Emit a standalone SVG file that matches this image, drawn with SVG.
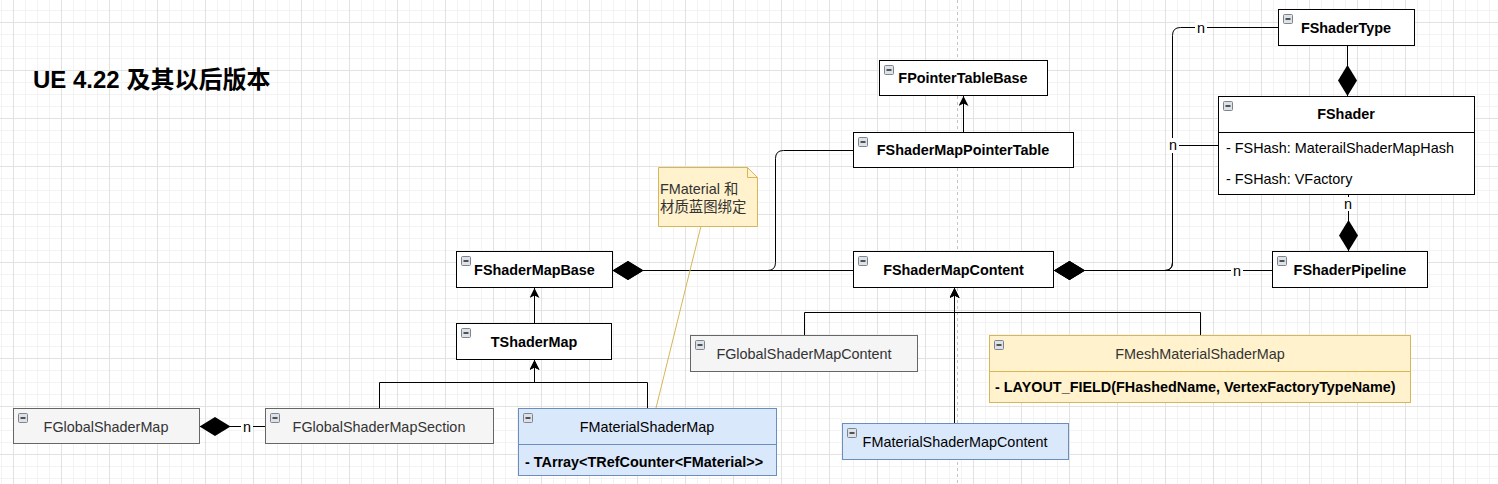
<svg xmlns="http://www.w3.org/2000/svg" width="1498" height="484" viewBox="0 0 1498 484">
<style>
  .t { font-family: "Liberation Sans", Arial, "Noto Sans CJK SC", sans-serif; font-size: 14.4px; fill: #000; }
  .b { font-weight: bold; }
  .c { text-anchor: middle; }
  .g { fill: #333333; }
  .box { fill: #ffffff; stroke: #000000; stroke-width: 1; }
  .grey { fill: #f5f5f5; stroke: #666666; stroke-width: 1; }
  .blue { fill: #dae8fc; stroke: #6c8ebf; stroke-width: 1; }
  .yel { fill: #fff2cc; stroke: #d6b656; stroke-width: 1; }
  .edge { fill: none; stroke: #000; stroke-width: 1; }
  .lbl { fill: #ffffff; stroke: none; }
</style>
<defs>
  <pattern id="grid" x="13" y="22" width="48" height="48" patternUnits="userSpaceOnUse">
    <path d="M12.5,0 V48 M24.5,0 V48 M36.5,0 V48 M0,12.5 H48 M0,24.5 H48 M0,36.5 H48" stroke="#f3f3f3" stroke-width="1" fill="none"/>
    <path d="M0.5,0 V48 M0,0.5 H48" stroke="#e2e2e2" stroke-width="1" fill="none"/>
  </pattern>
  <marker id="arrow" viewBox="0 0 10 10" refX="10" refY="5" markerWidth="10" markerHeight="10" markerUnits="userSpaceOnUse" orient="auto">
    <path d="M0,0 L10,5 L0,10 L2.5,5 Z" fill="#000"/>
  </marker>
  <marker id="diamond" viewBox="0 0 31 20" refX="31" refY="10" markerWidth="31" markerHeight="20" markerUnits="userSpaceOnUse" orient="auto">
    <path d="M0,10 L15.5,0.5 L31,10 L15.5,19.5 Z" fill="#000"/>
  </marker>
  <g id="icon">
    <rect x="0.5" y="0.5" width="9" height="9" rx="1" fill="#dde2e8" stroke="#7d848c"/>
    <path d="M2.5,5 H7.5" stroke="#222" stroke-width="1.5"/>
  </g>
</defs>

<rect x="0" y="0" width="1498" height="484" fill="#ffffff"/>
<rect x="0" y="0" width="1498" height="484" fill="url(#grid)"/>
<path d="M957.5,0 V484" stroke="#c4c4c4" stroke-width="1" stroke-dasharray="3 3"/>

<text x="33" y="88" class="t b" style="font-size:24px">UE 4.22 及其以后版本</text>

<g id="connectors">
  <path class="edge" d="M963.5,132 V96" marker-end="url(#arrow)"/>
  <path class="edge" d="M853,150.5 H783.5 Q775.5,150.5 775.5,158.5 V262.5 Q775.5,270.5 767.5,270.5 H612.5" marker-end="url(#diamond)"/>
  <path class="edge" d="M853,270.5 H612.5" marker-end="url(#diamond)"/>
  <path class="edge" d="M1278,27.5 H1180.5 Q1172.5,27.5 1172.5,35.5 V262.5 Q1172.5,270.5 1164.5,270.5 H1054" marker-end="url(#diamond)"/>
  <path class="edge" d="M1218,145.5 H1172.5 V262.5 Q1172.5,270.5 1164.5,270.5 H1054" marker-end="url(#diamond)"/>
  <path class="edge" d="M1272,270.5 H1054" marker-end="url(#diamond)"/>
  <path class="edge" d="M1347.5,45.5 V96" marker-end="url(#diamond)"/>
  <path class="edge" d="M1348.5,194.5 V251" marker-end="url(#diamond)"/>
  <path class="edge" d="M534.5,323.5 V288" marker-end="url(#arrow)"/>
  <path class="edge" d="M379.5,408 V382.5 H534.5 V360" marker-end="url(#arrow)"/>
  <path class="edge" d="M647.5,408 V382.5 H534.5 V360" marker-end="url(#arrow)"/>
  <path class="edge" d="M265,426.5 H199.5" marker-end="url(#diamond)"/>
  <path class="edge" d="M804.5,335.5 V312.5 H954.5 V288" marker-end="url(#arrow)"/>
  <path class="edge" d="M1200.5,335.5 V312.5 H954.5 V288" marker-end="url(#arrow)"/>
  <path class="edge" d="M954.5,423 V288" marker-end="url(#arrow)"/>
  <path d="M701,226 L656,408" stroke="#d6b656" stroke-width="1" fill="none"/>
  <rect class="lbl" x="1195" y="20" width="12" height="15"/>
  <text x="1201" y="33" class="t c">n</text>
  <rect class="lbl" x="1167" y="138" width="12" height="15"/>
  <text x="1173" y="150" class="t c">n</text>
  <rect class="lbl" x="1342" y="197" width="12" height="14"/>
  <text x="1348" y="209" class="t c">n</text>
  <rect class="lbl" x="1231" y="264" width="12" height="14"/>
  <text x="1237" y="276" class="t c">n</text>
  <rect class="lbl" x="241" y="420" width="12" height="14"/>
  <text x="247" y="432" class="t c">n</text>
</g>

<g id="FPointerTableBase">
  <rect class="box" x="879.5" y="60.5" width="168" height="35"/>
  <use href="#icon" x="884" y="65"/>
  <text x="963" y="83" class="t b c">FPointerTableBase</text>
</g>
<g id="FShaderMapPointerTable">
  <rect class="box" x="853.5" y="132.5" width="220" height="35"/>
  <use href="#icon" x="858" y="137"/>
  <text x="963" y="155" class="t b c">FShaderMapPointerTable</text>
</g>
<g id="FShaderType">
  <rect class="box" x="1278.5" y="9.5" width="136" height="36"/>
  <use href="#icon" x="1283" y="14"/>
  <text x="1346" y="33" class="t b c">FShaderType</text>
</g>
<g id="FShader">
  <rect class="box" x="1218.5" y="96.5" width="256" height="98"/>
  <path d="M1218.5,132.5 H1474.5" stroke="#000" stroke-width="1"/>
  <use href="#icon" x="1223" y="101"/>
  <text x="1346" y="119" class="t b c">FShader</text>
  <text x="1226" y="153" class="t">- FSHash: MaterailShaderMapHash</text>
  <text x="1226" y="184" class="t">- FSHash: VFactory</text>
</g>
<g id="FShaderMapBase">
  <rect class="box" x="456.5" y="251.5" width="156" height="36"/>
  <use href="#icon" x="461" y="256"/>
  <text x="534.5" y="275" class="t b c">FShaderMapBase</text>
</g>
<g id="FShaderMapContent">
  <rect class="box" x="853.5" y="251.5" width="200" height="36"/>
  <use href="#icon" x="858" y="256"/>
  <text x="953.5" y="275" class="t b c">FShaderMapContent</text>
</g>
<g id="FShaderPipeline">
  <rect class="box" x="1272.5" y="251.5" width="155" height="36"/>
  <use href="#icon" x="1277" y="256"/>
  <text x="1350" y="275" class="t b c">FShaderPipeline</text>
</g>
<g id="TShaderMap">
  <rect class="box" x="456.5" y="323.5" width="155" height="36"/>
  <use href="#icon" x="461" y="328"/>
  <text x="534" y="347" class="t b c">TShaderMap</text>
</g>
<g id="FGlobalShaderMap">
  <rect class="grey" x="13.5" y="408.5" width="186" height="35"/>
  <use href="#icon" x="18" y="413"/>
  <text x="106" y="432" class="t c g">FGlobalShaderMap</text>
</g>
<g id="FGlobalShaderMapSection">
  <rect class="grey" x="265.5" y="408.5" width="228" height="35"/>
  <use href="#icon" x="270" y="413"/>
  <text x="379" y="432" class="t c g">FGlobalShaderMapSection</text>
</g>
<g id="FMaterialShaderMap">
  <rect class="blue" x="518.5" y="408.5" width="258" height="67"/>
  <path d="M518.5,444.5 H776.5" stroke="#6c8ebf" stroke-width="1"/>
  <use href="#icon" x="523" y="413"/>
  <text x="647" y="432" class="t c">FMaterialShaderMap</text>
  <text x="525" y="467" class="t b">- TArray&lt;TRefCounter&lt;FMaterial&gt;&gt;</text>
</g>
<g id="FGlobalShaderMapContent">
  <rect class="grey" x="690.5" y="335.5" width="227" height="36"/>
  <use href="#icon" x="695" y="340"/>
  <text x="804" y="359" class="t c g">FGlobalShaderMapContent</text>
</g>
<g id="FMeshMaterialShaderMap">
  <rect class="yel" x="989.5" y="335.5" width="421" height="67"/>
  <path d="M989.5,371.5 H1410.5" stroke="#d6b656" stroke-width="1"/>
  <use href="#icon" x="994" y="340"/>
  <text x="1200" y="359" class="t c g">FMeshMaterialShaderMap</text>
  <text x="995" y="392" class="t b">- LAYOUT_FIELD(FHashedName, VertexFactoryTypeName)</text>
</g>
<g id="FMaterialShaderMapContent">
  <rect class="blue" x="842.5" y="423.5" width="226" height="36"/>
  <use href="#icon" x="847" y="428"/>
  <text x="955" y="447" class="t c">FMaterialShaderMapContent</text>
</g>
<g id="note">
  <path class="yel" d="M658.5,167.5 H747.5 L757.5,177.5 V226.5 H658.5 Z"/>
  <path d="M747.5,167.5 V177.5 H757.5" fill="none" stroke="#d6b656" stroke-width="1"/>
  <text x="660" y="194" class="t g">FMaterial 和</text>
  <text x="660" y="212" class="t g">材质蓝图绑定</text>
</g>
</svg>
